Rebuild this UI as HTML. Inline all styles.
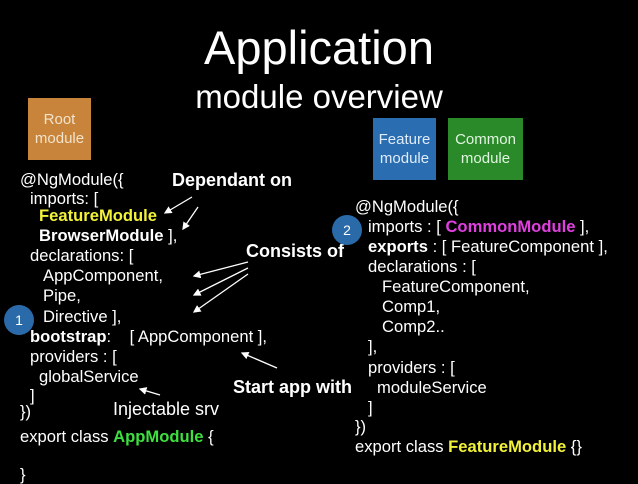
<!DOCTYPE html>
<html><head><style>
body{margin:0;width:638px;height:479px;background:#000;overflow:hidden;position:relative;font-family:"Liberation Sans",sans-serif;color:#fff}
.t{position:absolute;white-space:nowrap;font-size:16.6px;line-height:18px}
.b{font-weight:bold}
.L{font-size:18px;font-weight:bold}
.box{position:absolute;text-align:center;font-size:15px;line-height:19px;display:flex;align-items:center;justify-content:center}
.c{position:absolute;width:30px;height:30px;border-radius:50%;background:#2a6aa8;text-align:center;line-height:30px;font-size:14px}
</style></head><body>
<div class="t" style="left:0;width:638px;text-align:center;top:22px;font-size:47px;line-height:52px">Application</div>
<div class="t" style="left:0;width:638px;text-align:center;top:79px;font-size:33px;line-height:36px">module overview</div>
<div class="box" style="left:28px;top:98px;width:63px;height:62px;background:#c8843a;color:#f3e3cc">Root<br>module</div>
<div class="box" style="left:373px;top:118px;width:63px;height:62px;background:#2a6db0;color:#e0ecf8">Feature<br>module</div>
<div class="box" style="left:448px;top:118px;width:75px;height:62px;background:#2a8a2a;color:#e0f4e0">Common<br>module</div>

<div class="t" style="left:20px;top:171px">@NgModule({</div>
<div class="t" style="left:30px;top:190px">imports: [</div>
<div class="t b" style="left:39px;top:207px;color:#f2f23a">FeatureModule</div>
<div class="t" style="left:39px;top:227px"><b>BrowserModule</b> ],</div>
<div class="t" style="left:30px;top:247px">declarations: [</div>
<div class="t" style="left:43px;top:267px">AppComponent,</div>
<div class="t" style="left:43px;top:287px">Pipe,</div>
<div class="t" style="left:43px;top:308px">Directive ],</div>
<div class="t" style="left:30px;top:328px"><b>bootstrap</b>: &nbsp;&nbsp;&nbsp;[ AppComponent ],</div>
<div class="t" style="left:30px;top:348px">providers : [</div>
<div class="t" style="left:39px;top:368px">globalService</div>
<div class="t" style="left:30px;top:387px">]</div>
<div class="t" style="left:20px;top:403px">})</div>
<div class="t" style="left:20px;top:428px">export class <b style="color:#3ee03e">AppModule</b> {</div>
<div class="t" style="left:20px;top:466px">}</div>

<div class="t" style="left:355px;top:198px">@NgModule({</div>
<div class="t" style="left:368px;top:218px">imports : [ <b style="color:#e040e0">CommonModule</b> ],</div>
<div class="t" style="left:368px;top:238px"><b>exports</b> : [ FeatureComponent ],</div>
<div class="t" style="left:368px;top:258px">declarations : [</div>
<div class="t" style="left:382px;top:278px">FeatureComponent,</div>
<div class="t" style="left:382px;top:298px">Comp1,</div>
<div class="t" style="left:382px;top:318px">Comp2..</div>
<div class="t" style="left:368px;top:338px">],</div>
<div class="t" style="left:368px;top:359px">providers : [</div>
<div class="t" style="left:377px;top:379px">moduleService</div>
<div class="t" style="left:368px;top:399px">]</div>
<div class="t" style="left:355px;top:418px">})</div>
<div class="t" style="left:355px;top:438px">export class <b style="color:#f2f23a">FeatureModule</b> {}</div>

<div class="t L" style="left:172px;top:171px">Dependant on</div>
<div class="t L" style="left:246px;top:242px">Consists of</div>
<div class="t L" style="left:233px;top:378px">Start app with</div>
<div class="t" style="left:113px;top:400px;font-size:18px">Injectable srv</div>

<div class="c" style="left:4px;top:305px">1</div>
<div class="c" style="left:332px;top:215px">2</div>

<svg width="638" height="479" style="position:absolute;left:0;top:0">
<defs><marker id="a" markerWidth="6" markerHeight="6" refX="5" refY="3" orient="auto"><path d="M0,0L6,3L0,6z" fill="#fff"/></marker></defs>
<g stroke="#fff" stroke-width="1.3" marker-end="url(#a)">
<line x1="192" y1="197" x2="165" y2="213"/>
<line x1="198" y1="207" x2="183" y2="229"/>
<line x1="248" y1="262" x2="194" y2="276"/>
<line x1="248" y1="268" x2="194" y2="295"/>
<line x1="248" y1="274" x2="194" y2="312"/>
<line x1="277" y1="368" x2="242" y2="353"/>
<line x1="160" y1="395" x2="140" y2="389"/>
</g></svg>
</body></html>
